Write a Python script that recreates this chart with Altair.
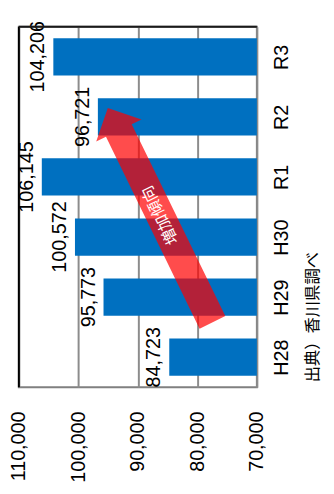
import math
import altair as alt
import pandas as pd

# ---- data ----
years = ["H28", "H29", "H30", "R1", "R2", "R3"]
visitors = [84723, 95773, 100572, 106145, 96721, 104206]
value_ticks = [70000, 80000, 90000, 100000, 110000]
arrow_label = "増加傾向"
# arrow ends in data space: (value, category position counted from bottom, H28 centre = 0.5)
arrow_tail = (77465, 1.08)
arrow_tip = (95053, 4.65)
source_note = "出典）香川県調べ"

W, H = 241, 365
X_MIN, X_MAX = 70000, 110000
NUM_FONT = "Liberation Sans"
JP_FONT = "Noto Sans CJK JP"
BLUE = "#0070C0"
BAR_HALF = 0.31  # half of the bar thickness, as a share of one category slot

n = len(years)
df = pd.DataFrame({"year": years, "visitors": visitors})
df["pos"] = [i + 0.5 for i in range(n)]
df["lo"] = df["pos"] - BAR_HALF
df["hi"] = df["pos"] + BAR_HALF

xscale = alt.Scale(domain=[X_MIN, X_MAX], reverse=True, nice=False, zero=False)
yscale = alt.Scale(domain=[0, n], nice=False, zero=False)

names_js = "[" + ",".join(f"'{y}'" for y in years) + "]"

xaxis = alt.Axis(values=value_ticks, labelExpr="format(datum.value, ',')",
                 title=None, labelAngle=270,
                 labelAlign="right", labelBaseline="middle", labelPadding=24,
                 ticks=False, domain=False, grid=True, gridColor="#8c8c8c",
                 gridWidth=2, labelFontSize=20, labelFont=NUM_FONT, labelColor="black")
yaxis = alt.Axis(orient="right", values=list(df["pos"]),
                 labelExpr=f"{names_js}[round(datum.value - 0.5)]",
                 title=None, labelAngle=270, labelAlign="center",
                 labelBaseline="top", labelPadding=15, ticks=False, domain=False,
                 grid=False, labelFontSize=20, labelFont=NUM_FONT, labelColor="black")

base = alt.Chart(df)

bars = base.mark_bar(color=BLUE).encode(
    x=alt.X("visitors:Q", scale=xscale, axis=xaxis),
    x2=alt.datum(X_MIN),
    y=alt.Y("lo:Q", scale=yscale, axis=yaxis),
    y2="hi:Q",
)

labels = base.mark_text(angle=270, align="center", baseline="alphabetic", dy=-9,
                        fontSize=20, font=NUM_FONT, color="black").encode(
    x=alt.X("visitors:Q"),
    y=alt.Y("pos:Q"),
    text=alt.Text("visitors:Q", format=","),
)

left_line = alt.Chart(pd.DataFrame({"a": [0]})).mark_rule(color="black", strokeWidth=2).encode(
    x=alt.datum(X_MAX)
)
top_line = alt.Chart(pd.DataFrame({"a": [0]})).mark_rule(color="#1a1a1a", strokeWidth=2).encode(
    x=alt.value(0), x2=alt.value(W), y=alt.value(0)
)

note = alt.Chart(pd.DataFrame({"t": [source_note]})).mark_text(
    angle=270, align="left", baseline="middle", fontSize=16.5, font=JP_FONT, color="black"
).encode(
    text="t:N", x=alt.value(W + 57), y=alt.value(H - 5)
)

# ---- arrow annotation geometry (converted from data space) ----
def to_px(v, pos):
    return ((X_MAX - v) / (X_MAX - X_MIN) * W, H - pos / n * H)

tx, ty = to_px(*arrow_tail)
hx, hy = to_px(*arrow_tip)
L = math.hypot(hx - tx, hy - ty)
ang = math.degrees(math.atan2(hx - tx, -(hy - ty))) % 360
u = L / 2.0
head_len = 25.5 / u
head_half = 25.5 / u
shaft_half = 14.5 / u
yb = -1 + head_len
arrow_path = (f"M0,-1L{head_half:.4f},{yb:.4f}L{shaft_half:.4f},{yb:.4f}"
              f"L{shaft_half:.4f},1L{-shaft_half:.4f},1L{-shaft_half:.4f},{yb:.4f}"
              f"L{-head_half:.4f},{yb:.4f}Z")

arrow_df = pd.DataFrame({
    "v": [(arrow_tail[0] + arrow_tip[0]) / 2],
    "p": [(arrow_tail[1] + arrow_tip[1]) / 2],
    "t": [arrow_label],
})

arrow = alt.Chart(arrow_df).mark_point(
    shape=arrow_path, filled=True, fill="#FF0000", fillOpacity=0.7, opacity=1,
    strokeWidth=0, size=L * L, angle=ang,
).encode(
    x=alt.X("v:Q"),
    y=alt.Y("p:Q"),
)

arrow_text = alt.Chart(arrow_df).mark_text(
    angle=(ang - 90) % 360, align="center", baseline="middle", fontSize=16,
    font=JP_FONT, color="white",
).encode(
    x=alt.X("v:Q"),
    y=alt.Y("p:Q"),
    text="t:N",
)

chart = alt.layer(bars, labels, arrow, arrow_text, left_line, top_line, note).properties(
    width=W, height=H,
    autosize=alt.AutoSizeParams(type="none"),
    padding={"left": 11, "top": 16, "right": 70, "bottom": 97},
).configure_view(
    stroke="#808080", strokeWidth=2
)

chart.save("out.html", embed_options={"renderer": "svg", "actions": False})
